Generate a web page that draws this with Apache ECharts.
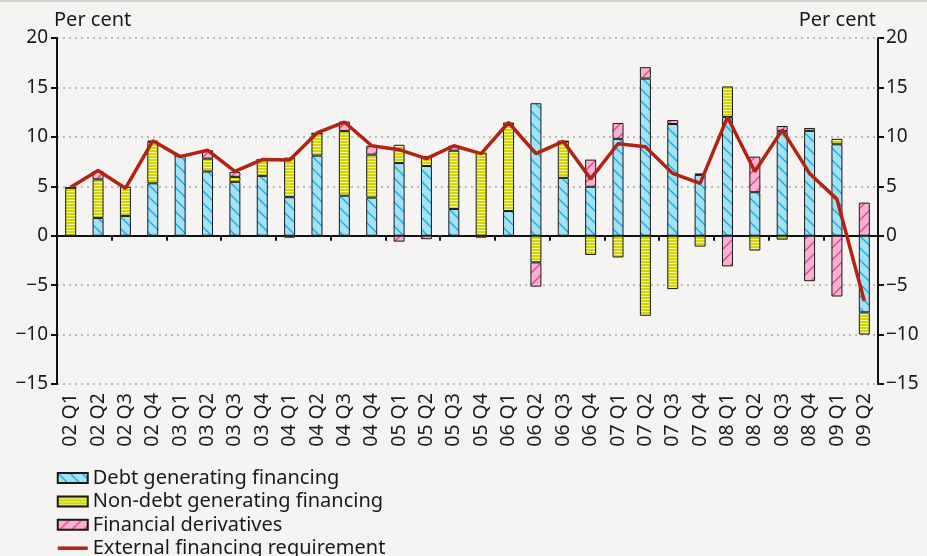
<!DOCTYPE html>
<html>
<head>
<meta charset="utf-8">
<script src="https://cdn.jsdelivr.net/npm/echarts@6/dist/echarts.min.js"></script>
<style>
  html, body { margin: 0; padding: 0; background: #f5f4f2; }
  #chart { width: 927px; height: 556px; }
</style>
</head>
<body>
<div id="chart"></div>
<script>
// quarters
var categories = ['02 Q1','02 Q2','02 Q3','02 Q4','03 Q1','03 Q2','03 Q3','03 Q4',
    '04 Q1','04 Q2','04 Q3','04 Q4','05 Q1','05 Q2','05 Q3','05 Q4',
    '06 Q1','06 Q2','06 Q3','06 Q4','07 Q1','07 Q2','07 Q3','07 Q4',
    '08 Q1','08 Q2','08 Q3','08 Q4','09 Q1','09 Q2'];

var debtFinancing = [0, 1.8, 2.0, 5.3, 8.1, 6.5, 5.45, 6.05, 3.9, 8.1, 4.05, 3.85, 7.35, 7.05, 2.7, 0,
    2.5, 13.4, 5.85, 4.95, 9.8, 15.9, 11.3, 6.15, 12.0, 4.4, 10.6, 10.6, 9.25, -7.75];
var nonDebtFinancing = [4.85, 3.9, 2.95, 4.2, 0, 1.3, 0.5, 1.65, 4.0, 2.25, 6.55, 4.35, 1.85, 1.0, 5.9, 8.4,
    8.7, -2.7, 3.7, -1.95, -2.2, -8.1, -5.4, -1.1, 3.1, -1.5, -0.4, 0.3, 0.55, -2.25];
var derivatives = [0, 0.85, -0.1, 0.1, -0.1, 0.85, 0.5, 0, -0.2, 0, 0.95, 0.9, -0.6, -0.35, 0.5, -0.2,
    0.25, -2.45, 0, 2.75, 1.6, 1.15, 0.4, 0.15, -3.1, 3.6, 0.5, -4.6, -6.15, 3.35];
var externalRequirement = [4.9, 6.6, 4.8, 9.6, 8.0, 8.65, 6.5, 7.7, 7.65, 10.4, 11.5, 9.1, 8.7, 7.8, 9.1, 8.3,
    11.45, 8.3, 9.55, 5.75, 9.3, 9.0, 6.3, 5.3, 12.0, 6.5, 10.7, 6.3, 3.7, -6.6];

var FONT = 'Noto Sans';
var LINE_RED = '#b42212';

// hatch patterns
function hatch(bg, fg, dir) {
    var s = 12;
    var c = document.createElement('canvas');
    c.width = s; c.height = s;
    var ctx = c.getContext('2d');
    ctx.fillStyle = bg;
    ctx.fillRect(0, 0, s, s);
    ctx.strokeStyle = fg;
    ctx.lineWidth = 1.4;
    ctx.beginPath();
    if (dir === '\\') {
        ctx.moveTo(0, 0); ctx.lineTo(s, s);
        ctx.moveTo(-2, s - 2); ctx.lineTo(2, s + 2);
        ctx.moveTo(s - 2, -2); ctx.lineTo(s + 2, 2);
    } else {
        ctx.moveTo(0, s); ctx.lineTo(s, 0);
        ctx.moveTo(-2, 2); ctx.lineTo(2, -2);
        ctx.moveTo(s - 2, s + 2); ctx.lineTo(s + 2, s - 2);
    }
    ctx.stroke();
    return { image: c, repeat: 'repeat' };
}
function stripes() {
    var c = document.createElement('canvas');
    c.width = 4; c.height = 3;
    var ctx = c.getContext('2d');
    ctx.fillStyle = '#cfd600';
    ctx.fillRect(0, 0, 4, 3);
    ctx.fillStyle = '#f0f2a8';
    ctx.fillRect(0, 2, 4, 1);
    return { image: c, repeat: 'repeat' };
}

var chart = echarts.init(document.getElementById('chart'));

var barStyle = function (fill) {
    return { color: fill, borderColor: '#1a1a1a', borderWidth: 1 };
};
var minusFmt = function (v) { return String(v).replace('-', '\u2212'); };

var option = {
    backgroundColor: '#f5f4f2',
    animation: false,
    textStyle: { fontFamily: FONT, color: '#1a1a1a' },
    grid: { left: 57, right: 49, top: 38, height: 346 },
    graphic: [
        { type: 'rect', shape: { x: 0, y: 0, width: 927, height: 2 }, style: { fill: '#d6d2ce' } },
        { type: 'text', left: 54, top: 10, style: { text: 'Per cent', font: '20px ' + FONT, fill: '#1a1a1a' } },
        { type: 'text', right: 51, top: 10, style: { text: 'Per cent', font: '20px ' + FONT, fill: '#1a1a1a', textAlign: 'right' } }
    ],
    legend: {
        orient: 'vertical',
        left: 56,
        top: 468,
        height: 140,
        padding: 0,
        itemWidth: 30,
        itemHeight: 10,
        itemGap: 3.4,
        textStyle: { fontFamily: FONT, fontSize: 20, color: '#1a1a1a', lineHeight: 18 },
        data: [
            { name: 'Debt generating financing', icon: 'rect' },
            { name: 'Non-debt generating financing', icon: 'rect' },
            { name: 'Financial derivatives', icon: 'rect' },
            { name: 'External financing requirement', itemStyle: { opacity: 0 },
              lineStyle: { color: LINE_RED, width: 3.5 } }
        ]
    },
    xAxis: [
        {
            type: 'category',
            data: categories,
            axisLine: { onZero: true, lineStyle: { color: '#111', width: 2 } },
            axisTick: { show: true, length: 5, lineStyle: { color: '#111', width: 2 } },
            axisLabel: { show: false },
            splitLine: { show: false }
        },
        {
            type: 'category',
            data: categories,
            position: 'bottom',
            axisLine: { show: false, onZero: false },
            axisTick: { show: false },
            axisLabel: { rotate: 90, interval: 0, fontSize: 19.5, fontFamily: FONT, color: '#1a1a1a', margin: 9 }
        }
    ],
    yAxis: [
        {
            type: 'value', min: -15, max: 20, interval: 5, position: 'left',
            axisLine: { show: true, lineStyle: { color: '#111', width: 2 } },
            axisTick: { show: true, length: 6, lineStyle: { color: '#111', width: 2 } },
            axisLabel: { fontSize: 19, fontFamily: FONT, color: '#1a1a1a', margin: 9, formatter: minusFmt },
            splitLine: { show: true, lineStyle: { color: '#a8a8a8', type: [2, 4], width: 1.5 } }
        },
        {
            type: 'value', min: -15, max: 20, interval: 5, position: 'right',
            axisLine: { show: true, lineStyle: { color: '#111', width: 2 } },
            axisTick: { show: true, length: 6, lineStyle: { color: '#111', width: 2 } },
            axisLabel: { fontSize: 19, fontFamily: FONT, color: '#1a1a1a', margin: 8, formatter: minusFmt },
            splitLine: { show: false }
        }
    ],
    series: [
        {
            name: 'Debt generating financing', type: 'bar', stack: 'fin', barWidth: 11,
            itemStyle: barStyle(hatch('#a3e1f5', '#1cace0', '\\')),
            data: debtFinancing
        },
        {
            name: 'Non-debt generating financing', type: 'bar', stack: 'fin', barWidth: 11,
            itemStyle: barStyle(stripes()),
            data: nonDebtFinancing
        },
        {
            name: 'Financial derivatives', type: 'bar', stack: 'fin', barWidth: 11,
            itemStyle: barStyle(hatch('#f7b2d2', '#e8408e', '/')),
            data: derivatives
        },
        {
            name: 'External financing requirement', type: 'line', symbol: 'none', z: 5,
            lineStyle: { color: LINE_RED, width: 3.5 },
            itemStyle: { color: LINE_RED },
            data: externalRequirement
        }
    ]
};

chart.setOption(option);
</script>
</body>
</html>
